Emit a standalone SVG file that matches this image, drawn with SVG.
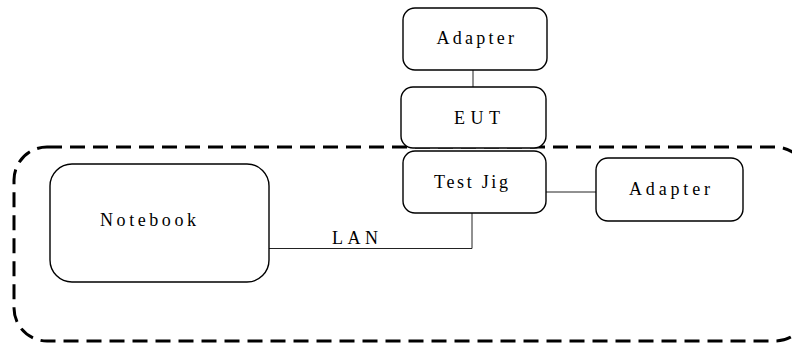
<svg xmlns="http://www.w3.org/2000/svg" width="792" height="344" viewBox="0 0 792 344">
<style>
.box{fill:#fff;stroke:#000;stroke-width:1.4}
.lbl{font-family:"Liberation Serif","Times New Roman",serif;font-size:18px;fill:#000}
.wire{fill:none;stroke:#222;stroke-width:1}
.boundary{fill:none;stroke:#000;stroke-width:3;stroke-dasharray:15 8}
</style>
<rect width="792" height="344" fill="#fff"/>
<rect class="boundary" x="14" y="147" width="794" height="194" rx="33" ry="33"/>
<g id="connectors">
<line class="wire" x1="473" y1="70" x2="473" y2="88"/>
<polyline class="wire" points="269,248.5 472,248.5 472,213"/>
<line class="wire" x1="546" y1="192" x2="596" y2="192"/>
<text class="lbl" x="332" y="244" textLength="46" lengthAdjust="spacing">LAN</text>
</g>
<g id="adapter-top">
<rect class="box" x="403" y="8" width="144" height="62" rx="12"/>
<text class="lbl" x="436.5" y="44" textLength="77.5" lengthAdjust="spacing">Adapter</text>
</g>
<g id="eut">
<rect class="box" x="401" y="87" width="145" height="61" rx="12"/>
<text class="lbl" x="454" y="124" textLength="46" lengthAdjust="spacing">EUT</text>
</g>
<g id="test-jig">
<rect class="box" x="403" y="151" width="143" height="62" rx="12"/>
<text class="lbl" x="434" y="188" textLength="74" lengthAdjust="spacing">Test Jig</text>
</g>
<g id="adapter-right">
<rect class="box" x="596" y="158" width="147" height="63" rx="12"/>
<text class="lbl" x="629" y="195" textLength="81" lengthAdjust="spacing">Adapter</text>
</g>
<g id="notebook">
<rect class="box" x="50" y="164" width="219" height="118" rx="22"/>
<text class="lbl" x="100" y="225.7" textLength="96" lengthAdjust="spacing">Notebook</text>
</g>
</svg>
